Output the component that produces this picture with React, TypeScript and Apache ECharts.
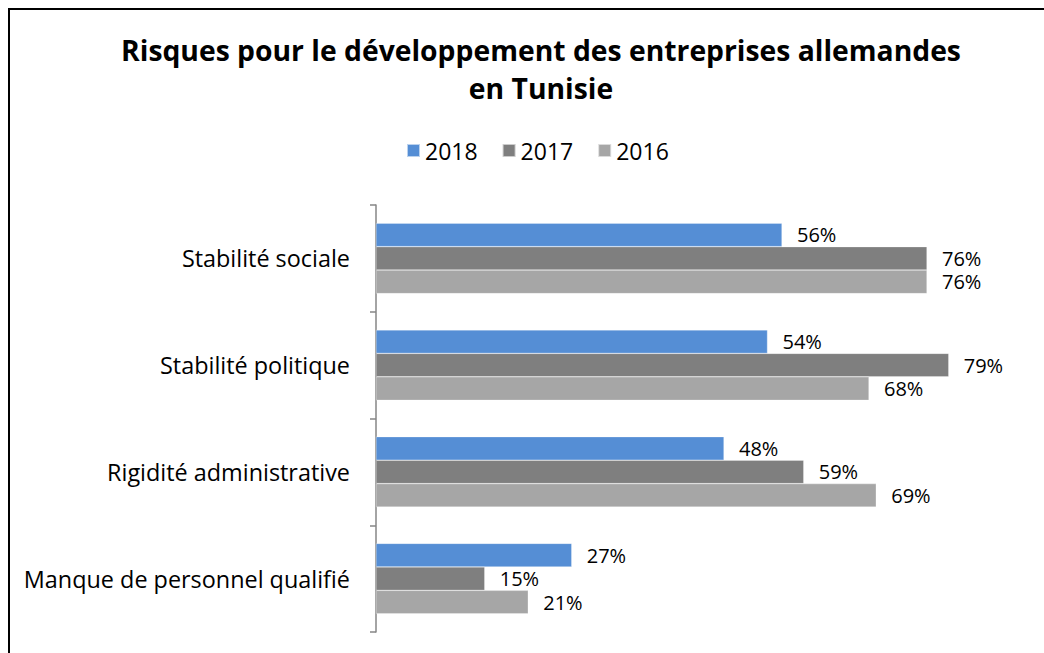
import React, { useEffect, useRef } from "react";
import * as echarts from "echarts";

const categories = [
  "Stabilité sociale",
  "Stabilité politique",
  "Rigidité administrative",
  "Manque de personnel qualifié",
];
const seriesNames = ["2018", "2017", "2016"];
const values2018 = [56, 54, 48, 27];
const values2017 = [76, 79, 59, 15];
const values2016 = [76, 68, 69, 21];
const colors = ["#558ED5", "#7F7F7F", "#A6A6A6"];
const titleLines = [
  "Risques pour le développement des entreprises allemandes",
  "en Tunisie",
];

export default function App() {
  const ref = useRef<HTMLDivElement>(null);
  useEffect(() => {
    if (!ref.current) return;
    const chart = echarts.init(ref.current, null, { renderer: "svg" });
    const data = [values2018, values2017, values2016];
    const font = "'Open Sans', sans-serif";
    chart.setOption({
      animation: false,
      backgroundColor: "#fff",
      textStyle: { fontFamily: font },
      title: {
        text: titleLines.join("\n"),
        left: 536,
        textAlign: "center",
        top: 26,
        textStyle: {
          fontFamily: font,
          fontWeight: "bold",
          fontSize: 28.3,
          lineHeight: 38,
          color: "#000",
        },
      },
      legend: {
        data: seriesNames,
        left: 401,
        top: 134,
        itemWidth: 13,
        itemHeight: 13,
        itemGap: 24,
        icon: "rect",
        textStyle: { fontFamily: font, fontSize: 23, color: "#000" },
      },
      grid: { left: 376, top: 205, width: 652.5, height: 427 },
      xAxis: {
        type: "value",
        min: 0,
        max: 90,
        show: false,
      },
      yAxis: {
        type: "category",
        data: categories,
        inverse: true,
        axisLine: { lineStyle: { color: "#868686", width: 1.5 } },
        axisTick: { show: true, length: 6, lineStyle: { color: "#868686", width: 1.5 } },
        axisLabel: { fontFamily: font, fontSize: 23.4, color: "#000", margin: 26 },
      },
      series: seriesNames.map((n, i) => ({
        name: n,
        type: "bar",
        data: data[i],
        barGap: "0%",
        barCategoryGap: "34%",
        itemStyle: { color: colors[i], borderColor: "rgba(255,255,255,0.6)", borderWidth: 0.5 },
        label: {
          show: true,
          position: "right",
          distance: 15,
          formatter: "{c}%",
          fontFamily: font,
          fontSize: 20,
          lineHeight: 22,
          color: "#000",
        },
      })),
      graphic: [
        { type: "line", shape: { x1: 8, y1: 9, x2: 1044, y2: 9 }, style: { stroke: "#000", lineWidth: 2 } },
        { type: "line", shape: { x1: 9, y1: 8, x2: 9, y2: 653 }, style: { stroke: "#000", lineWidth: 2 } },
      ],
    });
    return () => chart.dispose();
  }, []);
  return (
    <div
      ref={ref}
      style={{ position: "fixed", left: 0, top: 0, width: 1044, height: 653 }}
    />
  );
}
